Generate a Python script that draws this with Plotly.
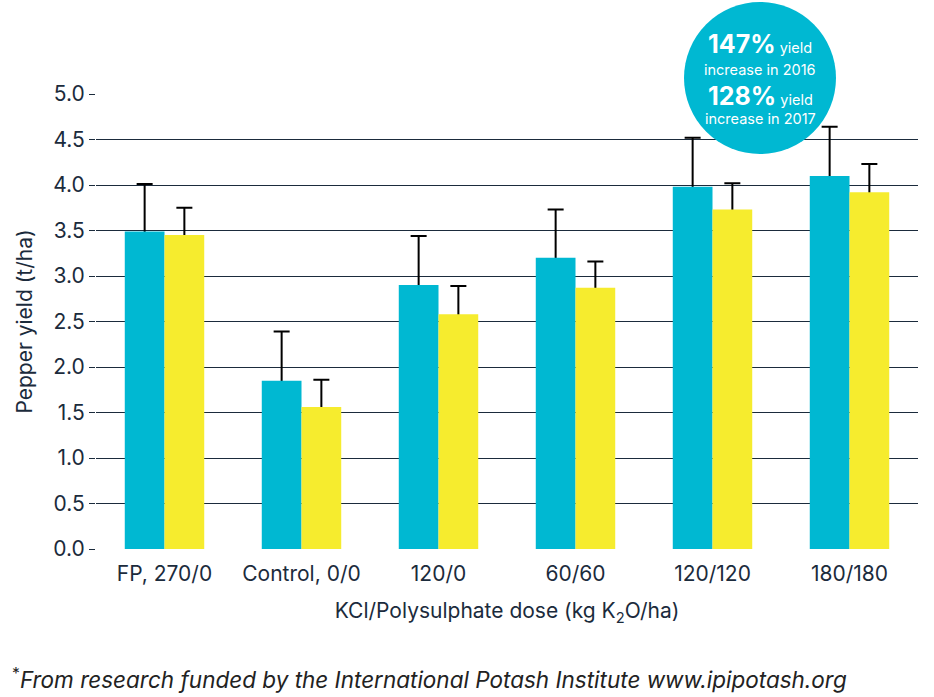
import plotly.graph_objects as go

categories = ["FP, 270/0", "Control, 0/0", "120/0", "60/60", "120/120", "180/180"]
yield_2016 = [3.49, 1.85, 2.90, 3.20, 3.98, 4.10]
err_2016 = [0.52, 0.54, 0.54, 0.53, 0.54, 0.54]
yield_2017 = [3.45, 1.56, 2.58, 2.87, 3.73, 3.92]
err_2017 = [0.30, 0.30, 0.31, 0.29, 0.29, 0.31]
y_ticks = [0, 0.5, 1, 1.5, 2, 2.5, 3, 3.5, 4, 4.5, 5]

CYAN = "#00B8D2"
YELLOW = "#F6EC2E"
NAVY = "#1B2B3C"
FONT = "Inter"
HIDE = 0.03  # small overlap so the lower end of the error bar sits inside the bar

fig = go.Figure()
# error bars on the lower subplot (invisible bars), so the coloured bars cover their base
for vals, errs, name in [(yield_2016, err_2016, "2016e"), (yield_2017, err_2017, "2017e")]:
    fig.add_trace(go.Bar(
        x=categories, y=vals, name=name, marker=dict(color="rgba(0,0,0,0)", line=dict(width=0)),
        error_y=dict(type="data", array=errs, arrayminus=[HIDE] * len(errs), symmetric=False,
                     color="black", thickness=2, width=8),
        xaxis="x", yaxis="y", hoverinfo="skip",
    ))
# coloured bars on the overlaying subplot
fig.add_trace(go.Bar(x=categories, y=yield_2016, name="2016",
                     marker=dict(color=CYAN, line=dict(width=0)), xaxis="x2", yaxis="y2"))
fig.add_trace(go.Bar(x=categories, y=yield_2017, name="2017",
                     marker=dict(color=YELLOW, line=dict(width=0)), xaxis="x2", yaxis="y2"))

fig.update_layout(
    width=934, height=697,
    margin=dict(l=96, r=16, t=94, b=148),
    paper_bgcolor="white", plot_bgcolor="white",
    barmode="group", bargap=0.42, bargroupgap=0,
    showlegend=False,
    font=dict(family=FONT, color=NAVY, size=21),
    yaxis=dict(
        range=[0, 5], tickvals=y_ticks, tickformat=".1f",
        showgrid=True, gridcolor=NAVY, gridwidth=1,
        ticks="outside", ticklen=6, tickcolor=NAVY, tickwidth=1,
        zeroline=False, showline=False,
        title=dict(text="Pepper yield (t/ha)", font=dict(size=21, color=NAVY), standoff=14),
        tickfont=dict(size=21, color=NAVY),
    ),
    xaxis=dict(
        range=[-0.5, 5.5], showgrid=False, showline=False, ticks="",
        tickfont=dict(size=21, color=NAVY), ticklabelstandoff=10,
        title=dict(text="KCl/Polysulphate dose (kg K<sub>2</sub>O/ha)",
                   font=dict(size=21, color=NAVY), standoff=18),
    ),
    xaxis2=dict(overlaying="x", range=[-0.5, 5.5], visible=False, showgrid=False),
    yaxis2=dict(overlaying="y", range=[0, 5], visible=False, showgrid=False),
)

def py(ypix):
    return (549 - ypix) / 455

def px(xpix):
    return (xpix - 96) / 822

# badge circle
fig.add_shape(type="circle", xref="paper", yref="paper",
              x0=px(684), x1=px(836), y0=py(154), y1=py(2),
              fillcolor=CYAN, line=dict(width=0), layer="above")

badge_lines = [
    ("<b><span style='font-size:25px'>147%</span></b> yield", 44),
    ("increase in 2016", 70),
    ("<b><span style='font-size:25px'>128%</span></b> yield", 96),
    ("increase in 2017", 118),
]
for txt, ypix in badge_lines:
    fig.add_annotation(text=txt, xref="paper", yref="paper", x=px(760), y=py(ypix),
                       showarrow=False, xanchor="center", yanchor="middle",
                       font=dict(family=FONT, color="white", size=14.5))

fig.add_annotation(
    text="<sup>*</sup><i>From research funded by the International Potash Institute www.ipipotash.org</i>",
    xref="paper", yref="paper", x=px(10), y=py(678), xanchor="left", yanchor="middle",
    showarrow=False, font=dict(family=FONT, size=22.5, color="#222222"))

fig.write_html("out.html")
